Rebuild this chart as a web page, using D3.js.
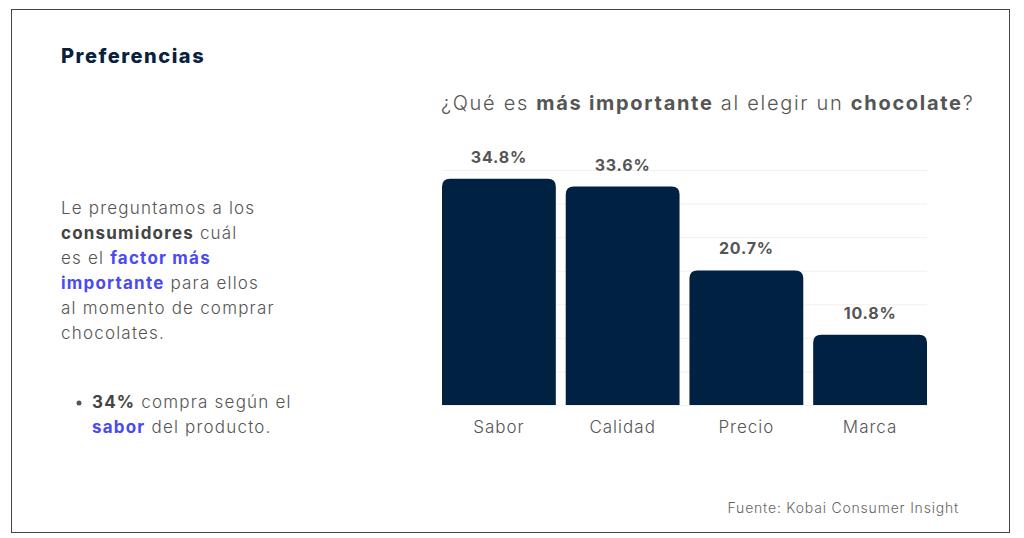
<!DOCTYPE html>
<html>
<head>
<meta charset="utf-8">
<script src="https://cdn.jsdelivr.net/npm/d3@7"></script>
<style>
  body { margin: 0; background: #fff; }
  svg { display: block; font-family: "Inter", "Open Sans", sans-serif; }
</style>
</head>
<body>
<svg id="svg" width="1024" height="538"></svg>
<script>
//chart data
const CATEGORIES = ["Sabor", "Calidad", "Precio", "Marca"];
const VALUES = [34.8, 33.6, 20.7, 10.8];
const VALUE_LABELS = ["34.8%", "33.6%", "20.7%", "10.8%"];
const GRID_STEPS = [0, 1, 2, 3, 4, 5, 6, 7];

const BAR_COLOR = "#012142";
const TEXT_COLOR = "#555555";
const BLUE = "#4a4af4";

var svg = d3.select("#svg");

//frame
svg.append("rect")
    .attr("x", 11.5).attr("y", 9.5)
    .attr("width", 998).attr("height", 523)
    .attr("fill", "none")
    .attr("stroke", "#444")
    .attr("stroke-width", 1);

//title
svg.append("text")
    .attr("x", 61).attr("y", 63)
    .attr("font-size", 20).attr("font-weight", 800)
    .attr("letter-spacing", 1.5)
    .attr("fill", "#0b1f3f")
    .text("Preferencias");

//question
var q = svg.append("text")
    .attr("x", 441).attr("y", 110)
    .attr("font-size", 20).attr("font-weight", 300)
    .attr("letter-spacing", 1.7)
    .attr("fill", TEXT_COLOR);
q.append("tspan").text("¿Qué es ");
q.append("tspan").attr("font-weight", 700).text("más importante");
q.append("tspan").text(" al elegir un ");
q.append("tspan").attr("font-weight", 700).text("chocolate");
q.append("tspan").text("?");

//left paragraph, each line is a list of [text, style]
const PARAGRAPH = [
    [["Le preguntamos a los", "n"]],
    [["consumidores", "b"], [" cuál", "n"]],
    [["es el ", "n"], ["factor más", "blue"]],
    [["importante", "blue"], [" para ellos", "n"]],
    [["al momento de comprar", "n"]],
    [["chocolates.", "n"]]
];
const BULLET = [
    [["34%", "b"], [" compra según el", "n"]],
    [["sabor", "blue"], [" del producto.", "n"]]
];

function writeLines(lines, x, y0, lh) {
    lines.forEach((line, i) => {
        var t = svg.append("text")
            .attr("x", x).attr("y", y0 + i * lh)
            .attr("font-size", 17).attr("font-weight", 300)
            .attr("letter-spacing", 1.2)
            .attr("fill", TEXT_COLOR);
        line.forEach((part) => {
            var s = t.append("tspan").text(part[0]);
            if (part[1] === "b") s.attr("font-weight", 700).attr("fill", "#444");
            if (part[1] === "blue") s.attr("font-weight", 700).attr("fill", BLUE);
        });
    });
}
writeLines(PARAGRAPH, 61, 214, 25);
writeLines(BULLET, 92, 408, 25);
svg.append("circle")
    .attr("cx", 79).attr("cy", 403).attr("r", 2.5)
    .attr("fill", TEXT_COLOR);

//scales
var scaleX = d3.scaleBand()
    .domain(CATEGORIES)
    .range([442, 927])
    .paddingInner(0.08)
    .paddingOuter(0);

var scaleY = d3.scaleLinear()
    .domain([0, 36.15])
    .range([405, 170]);

var scaleGrid = d3.scaleLinear()
    .domain([0, 7])
    .range([405, 170]);

//grid lines
svg.append("g")
    .selectAll("line")
    .data(GRID_STEPS)
    .enter()
    .append("line")
    .attr("x1", 442).attr("x2", 927)
    .attr("y1", (d) => scaleGrid(d) + 0.5)
    .attr("y2", (d) => scaleGrid(d) + 0.5)
    .attr("stroke", "#f0f0f0");

//bars with rounded top corners
const R = 8;
svg.append("g")
    .selectAll("path")
    .data(VALUES)
    .enter()
    .append("path")
    .attr("d", (d, i) => {
        var x0 = scaleX(CATEGORIES[i]);
        var x1 = x0 + scaleX.bandwidth();
        var y0 = scaleY(0);
        var y1 = scaleY(d);
        return "M" + x0 + "," + y0 +
            "V" + (y1 + R) +
            "Q" + x0 + "," + y1 + " " + (x0 + R) + "," + y1 +
            "H" + (x1 - R) +
            "Q" + x1 + "," + y1 + " " + x1 + "," + (y1 + R) +
            "V" + y0 + "Z";
    })
    .attr("fill", BAR_COLOR);

//value labels
svg.append("g")
    .selectAll("text")
    .data(VALUES)
    .enter()
    .append("text")
    .attr("x", (d, i) => scaleX(CATEGORIES[i]) + scaleX.bandwidth() / 2)
    .attr("y", (d) => scaleY(d) - 16)
    .attr("text-anchor", "middle")
    .attr("font-size", 16).attr("font-weight", 700)
    .attr("letter-spacing", 0.8)
    .attr("fill", TEXT_COLOR)
    .text((d, i) => VALUE_LABELS[i]);

//category axis
var xAxis = d3.axisBottom(scaleX).tickSize(0).tickPadding(16);
var gx = svg.append("g")
    .attr("transform", "translate(0,405)")
    .call(xAxis);
gx.select(".domain").remove();
gx.selectAll("text")
    .attr("font-size", 17).attr("font-weight", 300)
    .attr("letter-spacing", 1)
    .attr("font-family", "Inter, 'Open Sans', sans-serif")
    .attr("fill", TEXT_COLOR);

//source
svg.append("text")
    .attr("x", 959).attr("y", 513)
    .attr("text-anchor", "end")
    .attr("font-size", 14).attr("font-weight", 300)
    .attr("letter-spacing", 0.8)
    .attr("fill", "#666")
    .text("Fuente: Kobai Consumer Insight");
</script>
</body>
</html>
